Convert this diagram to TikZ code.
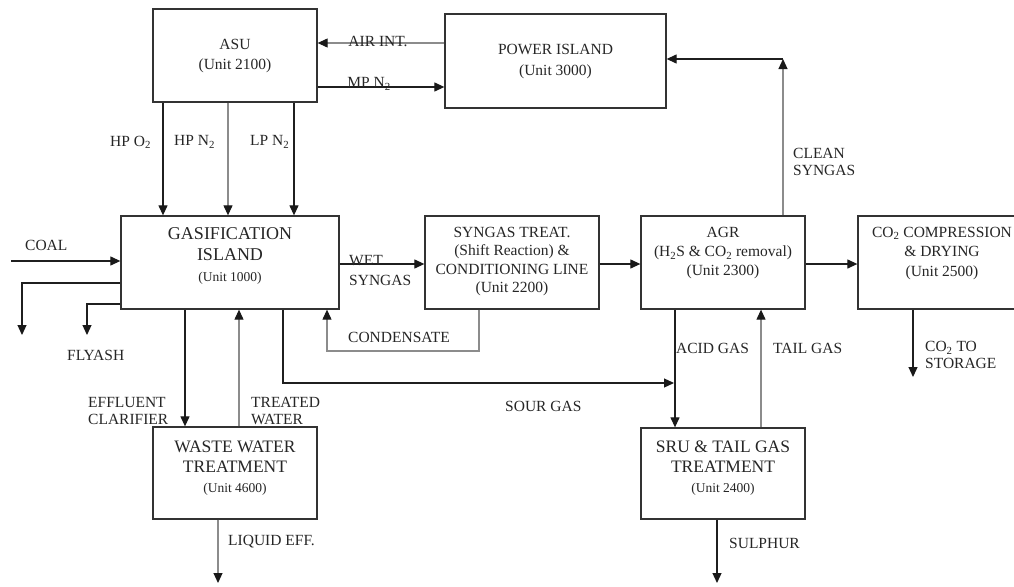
\documentclass[tikz,border=0pt]{standalone}
\usepackage{fontspec}
\setmainfont{Liberation Serif}
\usetikzlibrary{arrows.meta}
\newcommand\fsz[2]{\fontsize{#1}{#2}\selectfont}
\begin{document}
\begin{tikzpicture}[x=1pt,y=-1pt,
  box/.style={draw=black!80,line width=1.3pt,inner sep=0pt},
  lk/.style={draw=black!88,line width=1.2pt},
  lg/.style={draw=black!45,line width=1.1pt},
  txt/.style={text=black!85,font=\fsz{15.5}{18},align=center,inner sep=0pt},
  lab/.style={text=black!85,font=\fsz{15.5}{17},align=left,inner sep=0pt,anchor=west},
  >={Triangle[length=10pt,width=9pt,color=black!90]}]
\useasboundingbox (0,0) rectangle (1014,586);
\clip (0,0) rectangle (1014,586);
\fill[white] (0,0) rectangle (1014,586);

% boxes
\node[box,minimum width=164pt,minimum height=93pt] (asu) at (235,55.5) {};
\node[box,minimum width=221pt,minimum height=94pt] (power) at (555.5,61) {};
\node[box,minimum width=218pt,minimum height=93pt] (gas) at (230,262.5) {};
\node[box,minimum width=174pt,minimum height=93pt] (syn) at (512,262.5) {};
\node[box,minimum width=164pt,minimum height=93pt] (agr) at (723,262.5) {};
\node[box,minimum width=168pt,minimum height=93pt] (co2) at (942,262.5) {};
\node[box,minimum width=164pt,minimum height=92pt] (wwt) at (235,473) {};
\node[box,minimum width=164pt,minimum height=91pt] (sru) at (723,473.5) {};

% box texts
\node[txt,font=\fsz{15.5}{20}] (tasu) at (235,56) {ASU\\(Unit 2100)};
\node[txt,font=\fsz{15.5}{21}] (tpower) at (555.5,61.5) {POWER ISLAND\\(Unit 3000)};
\node[txt,font=\fsz{18}{21}] (tgas) at (230,256) {GASIFICATION\\ISLAND\\{\fsz{13.5}{21}(Unit 1000)}};
\node[txt,font=\fsz{15.5}{18.3}] (tsyn) at (512,261.5) {SYNGAS TREAT.\\(Shift Reaction) \&\\CONDITIONING LINE\\(Unit 2200)};
\node[txt,font=\fsz{15.5}{19}] (tagr) at (723,253.5) {AGR\\(H\textsubscript{2}S \& CO\textsubscript{2} removal)\\(Unit 2300)};
\node[txt,font=\fsz{15.5}{19.5}] (tco2) at (942,253.5) {CO\textsubscript{2} COMPRESSION\\\& DRYING\\(Unit 2500)};
\node[txt,font=\fsz{17.5}{20}] (twwt) at (235,468) {WASTE WATER\\TREATMENT\\{\fsz{13.5}{20}(Unit 4600)}};
\node[txt,font=\fsz{17.5}{20}] (tsru) at (723,468) {SRU \& TAIL GAS\\TREATMENT\\{\fsz{13.5}{20}(Unit 2400)}};

% helper coordinates
\coordinate (coalin) at (11,261);
\coordinate (ashout) at (22,335);
\coordinate (flyout) at (87,335);
\coordinate (sourend) at (674,383);
\coordinate (cscorner) at (783,59);
\coordinate (co2out) at (913,377);
\coordinate (wwtout) at (218,583);
\coordinate (sulout) at (717,583);

% connectors
\draw[lg,->] (power.west |- 0,43) -- (asu.east |- 0,43);
\draw[lk,->] (asu.east |- 0,87) -- (power.west |- 0,87);
\draw[lk,->] (asu.south -| 163,0) -- (gas.north -| 163,0);
\draw[lg,->] (asu.south -| 228,0) -- (gas.north -| 228,0);
\draw[lk,->] (asu.south -| 294,0) -- (gas.north -| 294,0);
\draw[lk,->] (coalin) -- (gas.west |- coalin);
\draw[lk,->] (gas.west |- 0,283) -| (ashout);
\draw[lk,->] (gas.west |- 0,304) -| (flyout);
\draw[lk,->] (gas.east |- 0,264) -- (syn.west |- 0,264);
\draw[lk,->] (syn.east |- 0,264) -- (agr.west |- 0,264);
\draw[lk,->] (agr.east |- 0,264) -- (co2.west |- 0,264);
\draw[lg,->] (syn.south -| 479,0) |- (327,351) -- (gas.south -| 327,0);
\draw[lk,->] (gas.south -| 283,0) |- (sourend);
\draw[lk,->] (agr.south -| 675,0) -- (sru.north -| 675,0);
\draw[lg,->] (sru.north -| 761,0) -- (agr.south -| 761,0);
\draw[lg,->] (agr.north -| cscorner) -- (cscorner);
\draw[lk,->] (cscorner) -- (power.east |- cscorner);
\draw[lk,->] (co2.south -| co2out) -- (co2out);
\draw[lk,->] (gas.south -| 185,0) -- (wwt.north -| 185,0);
\draw[lg,->] (wwt.north -| 239,0) -- (gas.south -| 239,0);
\draw[lg,->] (wwt.south -| wwtout) -- (wwtout);
\draw[lk,->] (sru.south -| sulout) -- (sulout);

% labels
\node[lab,anchor=center] (lair) at (378,41) {AIR INT.};
\node[lab,anchor=center] (lmp) at (369,84) {MP N\textsubscript{2}};
\node[lab] (lhpo) at (110,142) {HP O\textsubscript{2}};
\node[lab] (lhpn) at (174,142) {HP N\textsubscript{2}};
\node[lab] (llpn) at (250,142) {LP N\textsubscript{2}};
\node[lab] (lcoal) at (25,245) {COAL};
\node[lab] (lfly) at (67,355) {FLYASH};
\node[lab,font=\fsz{15.5}{20}] (lwet) at (349,270) {WET\\SYNGAS};
\node[lab] (lcond) at (348,337) {CONDENSATE};
\node[lab] (leff) at (88,410.5) {EFFLUENT\\CLARIFIER};
\node[lab] (ltreat) at (251,410.5) {TREATED\\WATER};
\node[lab] (lliq) at (228,542) {LIQUID EFF.};
\node[lab] (lsour) at (505,406) {SOUR GAS};
\node[lab] (lacid) at (676,348) {ACID GAS};
\node[lab] (ltail) at (773,348) {TAIL GAS};
\node[lab] (lclean) at (793,161.5) {CLEAN\\SYNGAS};
\node[lab,font=\fsz{15.5}{16.5}] (lstore) at (925,355) {CO\textsubscript{2} TO\\STORAGE};
\node[lab] (lsul) at (729,543) {SULPHUR};
\end{tikzpicture}
\end{document}
